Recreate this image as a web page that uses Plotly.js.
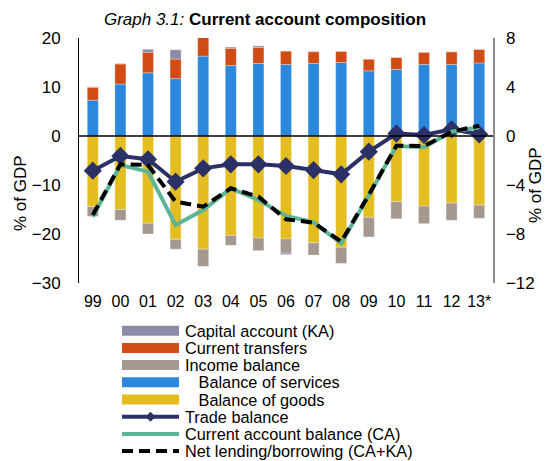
<!DOCTYPE html>
<html>
<head>
<meta charset="utf-8">
<script src="https://cdn.plot.ly/plotly-3.0.1.min.js"></script>
<style>html,body{margin:0;padding:0;background:#fff;}#chart{width:545px;height:461px;}</style>
</head>
<body>
<div id="chart"></div>
<script>
// ---- data (bars: left axis, % of GDP; lines: right axis) ----
const years = ['99','00','01','02','03','04','05','06','07','08','09','10','11','12','13*'];
const balanceOfGoods    = [-14.4,-15.0,-17.8,-21.1,-23.1,-20.3,-20.8,-21.0,-21.8,-22.7,-16.6,-13.4,-14.3,-13.7,-14.1];
const balanceOfServices = [7.3,10.6,12.9,11.7,16.3,14.4,14.8,14.6,14.8,15.0,13.3,13.6,14.6,14.6,14.9];
const incomeBalance     = [-2.0,-2.2,-2.2,-2.0,-3.5,-2.0,-2.6,-2.9,-2.5,-3.3,-4.0,-3.5,-3.6,-3.5,-2.7];
const currentTransfers  = [2.65,4.1,4.2,4.0,3.8,3.5,3.3,2.7,2.4,2.3,2.4,2.45,2.5,2.6,2.8];
const capitalAccount    = [0.1,0.1,0.6,1.9,0.0,0.25,0.3,-0.3,0.1,0.0,0.0,0.0,0.0,0.0,0.0];
const tradeBalance      = [-2.83,-1.63,-1.9,-3.73,-2.64,-2.31,-2.31,-2.45,-2.78,-3.13,-1.28,0.2,0.08,0.55,0.14];
const currentAccount    = [-6.59,-2.37,-2.91,-7.27,-6.04,-4.27,-5.22,-6.53,-7.05,-8.76,-4.85,-0.82,-0.92,0.35,0.71];
const netLending        = [-6.45,-2.31,-2.37,-5.36,-5.77,-4.27,-4.95,-6.8,-7.07,-8.63,-4.8,-0.79,-0.82,0.35,0.84];
const leftTicks  = [-30,-20,-10,0,10,20];
const rightTicks = [-12,-8,-4,0,4,8];

const legendLabels = ['Capital account (KA)','Current transfers','Income balance',
  '\u00a0\u00a0\u00a0Balance of services','\u00a0\u00a0\u00a0Balance of goods',
  'Trade balance','Current account balance (CA)','Net lending/borrowing (CA+KA)'];

// ---- styles ----
const C = {ka:'#8B8BA7', ct:'#D14B14', inc:'#A59890', srv:'#2B88DC', gd:'#E4BE20',
           tb:'#2B3166', ca:'#5BB596', nl:'#000000'};
const FONT = 'Arial, "Liberation Sans", sans-serif';
const NLDASH = '11px,6px';

function bar(name, y, color){
  return {type:'bar', name:name, x:years, y:y, marker:{color:color, line:{color:'rgba(255,255,255,0.5)', width:0.6}},
          yaxis:'y', showlegend:false, hoverinfo:'x+y+name'};
}
const traces = [
  bar('Balance of goods', balanceOfGoods, C.gd),
  bar('Balance of services', balanceOfServices, C.srv),
  bar('Income balance', incomeBalance, C.inc),
  bar('Current transfers', currentTransfers, C.ct),
  bar('Capital account (KA)', capitalAccount, C.ka),
  {type:'scatter', mode:'lines+markers', name:'Trade balance', x:years, y:tradeBalance, yaxis:'y2',
   line:{color:C.tb, width:4}, marker:{symbol:'diamond', size:14, color:C.tb}, showlegend:false},
  {type:'scatter', mode:'lines', name:'Current account balance (CA)', x:years, y:currentAccount, yaxis:'y2',
   line:{color:C.ca, width:4}, showlegend:false},
  {type:'scatter', mode:'lines', name:'Net lending/borrowing (CA+KA)', x:years, y:netLending, yaxis:'y2',
   line:{color:C.nl, width:4, dash:NLDASH}, showlegend:false}
];

// ---- geometry (pixels) ----
const W = 545, H = 461, L = 79, R = 52, T = 38, B = 178;
const PW = W - L - R, PH = H - T - B;
const px = x => (x - L) / PW;
const py = y => (H - B - y) / PH;

const shapes = [
  {type:'line', xref:'paper', yref:'y', x0:0, x1:1, y0:0, y1:0, line:{color:'#000', width:1.5}, layer:'above'}
];
const annotations = [
  {xref:'paper', yref:'paper', x:px(20), y:py(193), text:'% of GDP', textangle:-90, showarrow:false,
   xanchor:'center', yanchor:'middle', font:{family:FONT, size:17, color:'#000'}},
  {xref:'paper', yref:'paper', x:px(535), y:py(185), text:'% of GDP', textangle:-90, showarrow:false,
   xanchor:'center', yanchor:'middle', font:{family:FONT, size:17, color:'#000'}}
];

// custom legend
const legColors = [C.ka, C.ct, C.inc, C.srv, C.gd, C.tb, C.ca, C.nl];
const legY0 = 330.7, legStep = 17.2, sx0 = 122, sx1 = 179, tx = 183;
legendLabels.forEach((lab, i) => {
  const yc = legY0 + i * legStep;
  if (i < 5) {
    shapes.push({type:'rect', xref:'paper', yref:'paper', x0:px(sx0), x1:px(sx1), y0:py(yc+5), y1:py(yc-5),
                 fillcolor:legColors[i], line:{width:0}});
  } else {
    shapes.push({type:'line', xref:'paper', yref:'paper', x0:px(sx0), x1:px(sx1), y0:py(yc), y1:py(yc),
                 line:{color:legColors[i], width:4, dash: i === 7 ? NLDASH : 'solid'}});
    if (i === 5) {
      const cx = (sx0 + sx1) / 2, d = 5;
      shapes.push({type:'path', xref:'paper', yref:'paper',
        path:`M ${px(cx-d)} ${py(yc)} L ${px(cx)} ${py(yc-d)} L ${px(cx+d)} ${py(yc)} L ${px(cx)} ${py(yc+d)} Z`,
        fillcolor:legColors[i], line:{width:0}});
    }
  }
  annotations.push({xref:'paper', yref:'paper', x:px(tx), y:py(yc), text:lab, showarrow:false,
    xanchor:'left', yanchor:'middle', font:{family:FONT, size:16.3, color:'#000'}});
});

const layout = {
  width:W, height:H, paper_bgcolor:'#fff', plot_bgcolor:'#fff',
  margin:{l:L, r:R, t:T, b:B, pad:0},
  font:{family:FONT, color:'#000'},
  title:{text:'<i>Graph 3.1:</i> <b>Current account composition</b>', x:265/W, xanchor:'center',
         y:1 - 19/H, yanchor:'middle', xref:'container', yref:'container', font:{family:FONT, size:17, color:'#000'}},
  barmode:'relative', bargap:0.6, showlegend:false,
  xaxis:{type:'category', range:[-0.5, 14.5], showline:false, ticks:'', showgrid:false, zeroline:false,
         tickfont:{family:FONT, size:16, color:'#000'}, ticklabelstandoff:7, fixedrange:true},
  yaxis:{range:[-30, 20], tickvals:leftTicks, showgrid:false, zeroline:false, showline:true,
         linecolor:'#000', linewidth:1, ticks:'', tickfont:{family:FONT, size:17, color:'#000'},
         ticklabelstandoff:14},
  yaxis2:{range:[-12, 8], tickvals:rightTicks, overlaying:'y', side:'right', showgrid:false, zeroline:false,
          showline:true, linecolor:'#8C8C8C', linewidth:1.5, ticks:'', tickfont:{family:FONT, size:17, color:'#000'},
          ticklabelstandoff:8},
  shapes:shapes, annotations:annotations
};

Plotly.newPlot('chart', traces, layout, {staticPlot:true, displayModeBar:false});
</script>
</body>
</html>
